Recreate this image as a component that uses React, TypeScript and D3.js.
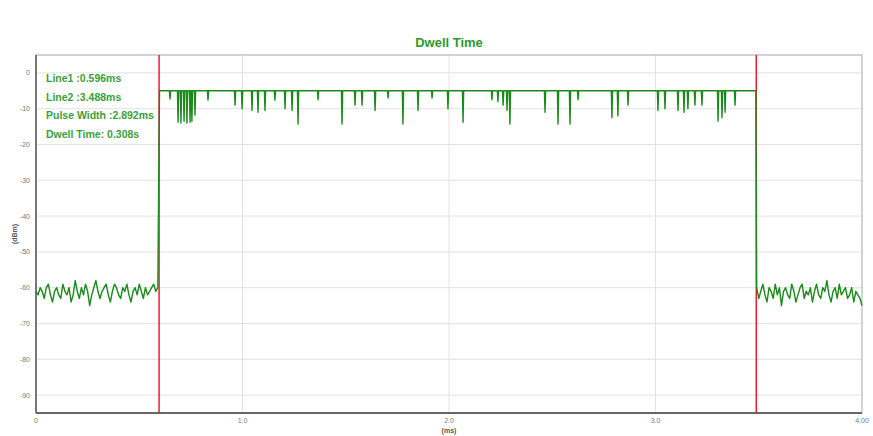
import * as d3 from 'd3';

// time axis in ms, level in dBm
const xTicks = [0, 1, 2, 3, 4];
const xTickLabels = ['0', '1.0', '2.0', '3.0', '4.00'];
const yTicks = [0, -10, -20, -30, -40, -50, -60, -70, -80, -90];

const line1 = 0.596;
const line2 = 3.488;

const legendLines = [
  'Line1 :0.596ms',
  'Line2 :3.488ms',
  'Pulse Width :2.892ms',
  'Dwell Time: 0.308s',
];

// noise floor before the pulse, one sample every 0.01 ms from t = 0
const preStep = 0.01;
const preValues = [
  -61, -62, -60, -61, -63, -60, -59, -62, -64, -61, -60, -62, -63, -59, -61, -62, -60, -64, -62, -58,
  -61, -63, -60, -62, -59, -61, -65, -62, -60, -58, -61, -63, -61, -60, -59, -62, -64, -61, -59, -60,
  -62, -63, -60, -61, -59, -62, -64, -61, -60, -62, -59, -61, -63, -60, -62, -61, -60, -59, -61, -60,
];

// pulse top level and the dips seen on it: [time ms, dBm]
const pulseStart = 0.598;
const pulseEnd = 3.486;
const pulseLevel = -5;
const pulseDips: [number, number][] = [
  [0.649, -7.3], [0.688, -13.8], [0.702, -14], [0.717, -13.5], [0.731, -14], [0.746, -13.8],
  [0.755, -13.5], [0.77, -11.8], [0.833, -7.6], [0.964, -9], [0.998, -10], [1.046, -10.5],
  [1.075, -11], [1.109, -10.5], [1.157, -7.6], [1.206, -10], [1.24, -10.5], [1.269, -14.3],
  [1.366, -7.5], [1.482, -14.3], [1.545, -9], [1.579, -9], [1.642, -10.5], [1.705, -7],
  [1.777, -14.3], [1.85, -10.5], [1.918, -7], [1.995, -10], [2.068, -13.8], [2.208, -7.5],
  [2.237, -8], [2.262, -9], [2.281, -10.5], [2.295, -14.3], [2.465, -11], [2.528, -14.3],
  [2.586, -14.3], [2.625, -7.5], [2.789, -12.5], [2.818, -12], [2.867, -9], [3.012, -10.5],
  [3.046, -10], [3.109, -10.5], [3.138, -11], [3.157, -10], [3.191, -9], [3.225, -9],
  [3.303, -13.5], [3.322, -12.5], [3.337, -11], [3.385, -9],
];

// noise floor after the pulse, one sample every 0.01 ms from t = 3.49
const postStart = 3.49;
const postStep = 0.01;
const postValues = [
  -60, -63, -61, -59, -62, -64, -60, -61, -63, -59, -62, -60, -65, -61, -60, -62, -63, -59, -61, -64,
  -62, -60, -59, -63, -61, -62, -60, -64, -61, -59, -62, -63, -60, -61, -58, -62, -64, -61, -60, -63,
  -59, -62, -61, -60, -63, -62, -60, -64, -61, -62, -63, -65,
];

const W = 873;
const H = 436;
const margin = { top: 55, right: 11, bottom: 23, left: 36 };

export default function App() {
  const x = d3.scaleLinear().domain([0, 4]).range([margin.left, W - margin.right]);
  const y = d3.scaleLinear().domain([5, -95]).range([margin.top, H - margin.bottom]);

  const points: [number, number][] = [];
  preValues.forEach((v, i) => points.push([i * preStep, v]));
  points.push([pulseStart, pulseLevel]);
  pulseDips.forEach(([t, v]) => {
    points.push([t - 0.003, pulseLevel]);
    points.push([t, v]);
    points.push([t + 0.003, pulseLevel]);
  });
  points.push([pulseEnd, pulseLevel]);
  postValues.forEach((v, i) => points.push([postStart + i * postStep, v]));

  const line = d3
    .line<[number, number]>()
    .x((d) => x(d[0]))
    .y((d) => y(d[1]));

  const plotL = margin.left;
  const plotR = W - margin.right;
  const plotT = margin.top;
  const plotB = H - margin.bottom;

  return (
    <svg
      width={W}
      height={H}
      style={{ position: 'fixed', left: 0, top: 0, background: '#fff' }}
      fontFamily="Liberation Sans, Arial, sans-serif"
    >
      {/* grid */}
      {yTicks.map((t) => (
        <line key={'gy' + t} x1={plotL} x2={plotR} y1={y(t)} y2={y(t)} stroke="#e2e2e2" />
      ))}
      {xTicks.slice(1, -1).map((t) => (
        <line key={'gx' + t} x1={x(t)} x2={x(t)} y1={plotT} y2={plotB} stroke="#e2e2e2" />
      ))}
      {/* frame */}
      <rect x={plotL} y={plotT} width={plotR - plotL} height={plotB - plotT} fill="none" stroke="#a8a8a8" />
      <line x1={plotL} x2={plotL} y1={plotT} y2={plotB} stroke="#777" strokeWidth={2} />
      <line x1={plotL} x2={plotR} y1={plotB} y2={plotB} stroke="#666" strokeWidth={2} />

      {/* tick labels */}
      {yTicks.map((t) => (
        <text key={'ly' + t} x={plotL - 6} y={y(t) + 2.5} fontSize={7} fill="#777" textAnchor="end">
          {t}
        </text>
      ))}
      {xTicks.map((t, i) => (
        <text key={'lx' + t} x={x(t)} y={plotB + 10} fontSize={7} fill="#777" textAnchor="middle">
          {xTickLabels[i]}
        </text>
      ))}
      <text x={(plotL + plotR) / 2} y={H - 3} fontSize={7} fontWeight="bold" fill="#555" textAnchor="middle">
        (ms)
      </text>
      <text
        transform={`translate(17,${(plotT + plotB) / 2}) rotate(-90)`}
        fontSize={7}
        fontWeight="bold"
        fill="#555"
        textAnchor="middle"
      >
        (dBm)
      </text>

      {/* markers */}
      {[line1, line2].map((t) => (
        <line key={'m' + t} x1={x(t)} x2={x(t)} y1={plotT} y2={plotB} stroke="#e8202a" strokeWidth={1.5} />
      ))}

      {/* trace */}
      <path d={line(points) ?? ''} fill="none" stroke="#1b8a1b" strokeWidth={1.4} strokeLinejoin="round" />

      {/* title */}
      <text x={(plotL + plotR) / 2} y={47} fontSize={13} fontWeight="bold" fill="#2c9a2c" textAnchor="middle">
        Dwell Time
      </text>

      {/* readout */}
      {legendLines.map((s, i) => (
        <text key={s} x={plotL + 10} y={82 + i * 18.5} fontSize={10.5} fontWeight="bold" fill="#3a9f3a">
          {s}
        </text>
      ))}
    </svg>
  );
}
